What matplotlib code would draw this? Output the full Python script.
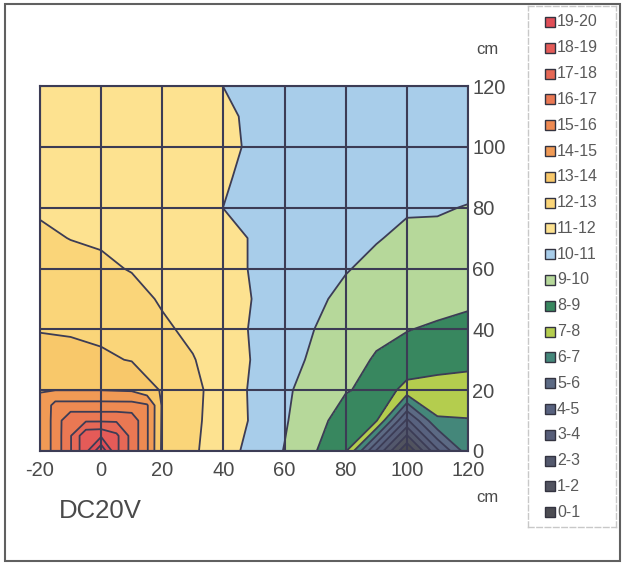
import matplotlib
matplotlib.use("Agg")
import matplotlib.pyplot as plt
from matplotlib.patches import Rectangle

plt.rcParams['font.family'] = ['Liberation Sans', 'DejaVu Sans']
plt.rcParams['axes.unicode_minus'] = False

# Measurement grid (cm) and field values at each node, rows bottom (y=0) to top (y=120)
x_cm = [-20, -10, 0, 10, 20, 30, 40, 50, 60, 70, 80, 90, 100, 110, 120]
y_cm = [0, 10, 20, 30, 40, 50, 60, 70, 80, 90, 100, 110, 120]
field = [
    [14.10, 17.05, 20.60, 16.50, 12.80, 12.15, 11.40, 10.67, 9.96, 9.05, 8.10, 3.90, 0.00, 3.80, 6.60],
    [14.10, 16.50, 16.90, 16.30, 12.85, 12.20, 11.53, 10.87, 10.10, 9.30, 8.60, 8.10, 3.80, 6.90, 6.95],
    [13.99, 13.99, 13.99, 13.90, 12.90, 12.25, 11.54, 10.84, 10.15, 9.60, 9.05, 8.80, 7.60, 7.60, 7.60],
    [13.40, 13.30, 13.15, 12.95, 12.50, 12.05, 11.50, 10.93, 10.30, 9.85, 9.40, 8.90, 8.78, 8.40, 8.25],
    [12.95, 12.90, 12.80, 12.60, 12.15, 11.80, 11.40, 10.90, 10.35, 9.99, 9.60, 9.25, 9.02, 8.92, 8.85],
    [12.70, 12.60, 12.50, 12.30, 11.90, 11.60, 11.35, 10.97, 10.40, 10.15, 9.80, 9.50, 9.29, 9.20, 9.10],
    [12.45, 12.30, 12.15, 11.95, 11.75, 11.50, 11.30, 10.92, 10.45, 10.30, 10.05, 9.80, 9.56, 9.55, 9.45],
    [12.15, 11.98, 11.90, 11.80, 11.65, 11.45, 11.30, 10.92, 10.50, 10.40, 10.25, 10.05, 9.84, 9.90, 9.85],
    [11.90, 11.85, 11.80, 11.70, 11.60, 11.40, 10.99, 10.70, 10.50, 10.45, 10.35, 10.25, 10.08, 10.04, 9.98],
    [11.80, 11.75, 11.70, 11.65, 11.55, 11.40, 11.20, 10.53, 10.55, 10.50, 10.45, 10.40, 10.30, 10.20, 10.15],
    [11.75, 11.70, 11.65, 11.60, 11.50, 11.45, 11.30, 10.80, 10.55, 10.50, 10.50, 10.50, 10.45, 10.35, 10.30],
    [11.70, 11.70, 11.60, 11.55, 11.50, 11.45, 11.25, 10.75, 10.55, 10.50, 10.50, 10.50, 10.55, 10.45, 10.40],
    [11.70, 11.65, 11.60, 11.55, 11.50, 11.40, 10.99, 10.70, 10.55, 10.50, 10.50, 10.55, 10.60, 10.50, 10.45],
]

# Finer 5 cm readings around the electrode (x -20..20, y 0..20)
x_near = [-20, -15, -10, -5, 0, 5, 10, 15, 20]
y_near = [0, 5, 10, 15, 20]
field_near = [
    [14.10, 15.39, 16.94, 18.74, 20.80, 18.22, 16.66, 15.12, 12.800],
    [14.10, 15.39, 16.94, 18.74, 18.86, 18.22, 16.66, 15.12, 12.825],
    [14.10, 15.39, 16.88, 16.88, 16.88, 16.88, 16.66, 15.12, 12.850],
    [14.05, 15.36, 15.36, 15.36, 15.36, 15.36, 15.36, 15.12, 12.875],
    [13.99, 13.99, 13.99, 13.99, 13.99, 13.945, 13.90, 13.40, 12.900],
]

levels = [0, 1, 2, 3, 4, 5, 6, 7, 8, 9, 10, 11, 12, 13, 14, 15, 16, 17, 18, 19, 20, 21]
band_labels = ["0-1", "1-2", "2-3", "3-4", "4-5", "5-6", "6-7", "7-8", "8-9", "9-10",
               "10-11", "11-12", "12-13", "13-14", "14-15", "15-16", "16-17", "17-18",
               "18-19", "19-20"]
band_colors = [
    "#4c4c52", "#51535f", "#53586c", "#565d78", "#58627f", "#5c6a84",
    "#44877a", "#b4cd4e", "#38875f", "#b6d89a",
    "#a8cdea", "#fde290", "#fad579", "#f8c86a",
    "#f09a55", "#ee8a52", "#ea7853", "#e66856", "#e45b58", "#e04e57",
    "#e04e57",
]
line_color = "#3c3c55"
text_color = "#4a4a4a"

fig = plt.figure(figsize=(6.22, 5.67), dpi=100)
fig.patch.set_facecolor("white")

ax = fig.add_axes([40 / 622, 116 / 567, 428 / 622, 365 / 567])
ax.contourf(x_cm, y_cm, field, levels=levels, colors=band_colors, zorder=1)
ax.contour(x_cm, y_cm, field, levels=levels[1:-2], colors=line_color,
           linewidths=1.3, zorder=2)
ax.contourf(x_near, y_near, field_near, levels=levels, colors=band_colors, zorder=3)
ax.contour(x_near, y_near, field_near, levels=levels[1:-1], colors=line_color,
           linewidths=1.3, zorder=4)

x_ticks = [-20, 0, 20, 40, 60, 80, 100, 120]
y_ticks = [0, 20, 40, 60, 80, 100, 120]
ax.set_xlim(-20, 120)
ax.set_ylim(0, 120)
ax.set_xticks(x_ticks)
ax.set_yticks(y_ticks)
ax.yaxis.tick_right()
ax.tick_params(axis="both", length=0, labelsize=14.5, labelcolor=text_color)
ax.tick_params(axis="x", pad=7)
ax.tick_params(axis="y", pad=3)
for xv in x_ticks:
    ax.axvline(xv, color=line_color, linewidth=1.5, zorder=5)
for yv in y_ticks:
    ax.axhline(yv, color=line_color, linewidth=1.5, zorder=5)
for sp in ax.spines.values():
    sp.set_color(line_color)
    sp.set_linewidth(1.5)
    sp.set_zorder(6)

# Unit labels and caption
fig.text(487 / 622, 1 - 50 / 567, "cm", fontsize=12, color=text_color,
         ha="center", va="center")
fig.text(487 / 622, 1 - 497 / 567, "cm", fontsize=12, color=text_color,
         ha="center", va="center")
fig.text(59 / 622, 1 - 511 / 567, "DC20V", fontsize=18.5, color=text_color,
         ha="left", va="center")

# Legend panel: one swatch per band, highest band on top
lax = fig.add_axes([528 / 622, 1 - 527 / 567, 88 / 622, 521 / 567])
lax.set_xlim(0, 88)
lax.set_ylim(521, 0)
lax.set_xticks([])
lax.set_yticks([])
for sp in lax.spines.values():
    sp.set_color("#c8c8c8")
    sp.set_linewidth(1.0)
    sp.set_linestyle((0, (4, 2)))
n = len(band_labels)
for i in range(n):
    k = n - 1 - i
    yc = 16 + i * 25.8
    lax.add_patch(Rectangle((17, yc - 5), 10, 10, facecolor=band_colors[k],
                            edgecolor="#333340", linewidth=1.0))
    lax.text(29, yc, band_labels[k], fontsize=11.5, color="#5a5a5a",
             ha="left", va="center")

# Outer frame
frame = fig.add_axes([0, 0, 1, 1], zorder=-1)
frame.set_xlim(0, 622)
frame.set_ylim(567, 0)
frame.axis("off")
frame.add_patch(Rectangle((5, 4), 615, 557, fill=False, edgecolor="#606060",
                          linewidth=1.5))

fig.savefig("out.png", dpi=100, facecolor="white")
